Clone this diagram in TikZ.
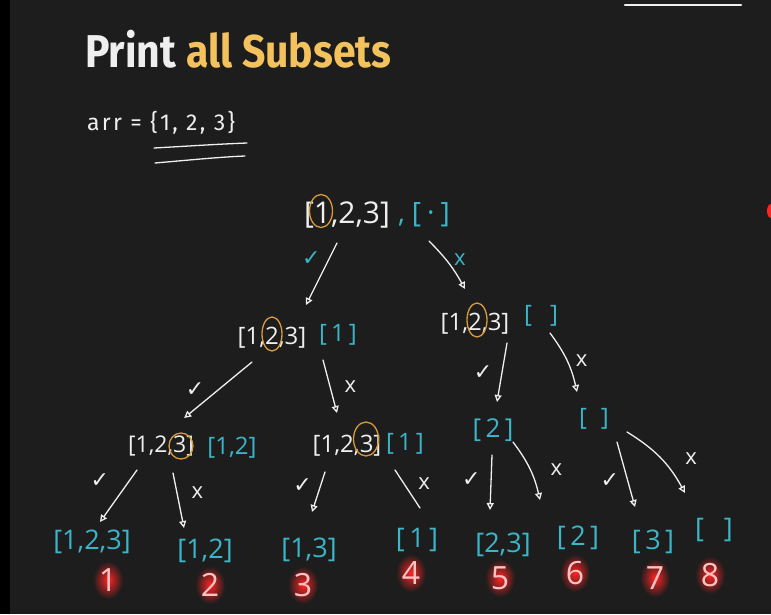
\documentclass[tikz,border=0pt]{standalone}
\usepackage{fontspec}
\usepackage{graphicx}
\setmainfont{Open Sans}
\newfontfamily\titlefont{Fira Sans}
\newfontfamily\symfont{DejaVu Sans}
\usetikzlibrary{arrows.meta}
\definecolor{board}{HTML}{1D1D1D}
\definecolor{chalkw}{HTML}{EFEFEF}
\definecolor{chalkb}{HTML}{3BB6C9}
\definecolor{ringc}{HTML}{D99A3B}
\definecolor{titley}{HTML}{F4C25C}
\definecolor{numred}{HTML}{FF2424}
\definecolor{numcore}{HTML}{FFC2C2}

\begin{document}
\begin{tikzpicture}[
    x=1pt, y=-1pt,
    chalk/.style={text=chalkw, inner sep=0pt, font=\fontsize{24}{24}\selectfont},
    sub/.style={chalk, text=chalkb},
    leaf/.style={sub, font=\fontsize{27}{27}\selectfont},
    ring/.style={draw=ringc, line width=1.3pt},
    chalkline/.style={draw=chalkw, line width=1.3pt, line cap=round},
    arr/.style={chalkline, -{Triangle[open, length=7pt, width=7pt]}},
    ck/.style={text=chalkw, inner sep=0pt, font=\symfont\fontsize{22}{22}\selectfont},
    ckb/.style={ck, text=chalkb},
    ex/.style={text=chalkw, inner sep=0pt, font=\fontsize{22}{22}\selectfont},
    exb/.style={ex, text=chalkb},
    num/.style={text=numcore, inner sep=0pt, font=\fontsize{32}{32}\selectfont}
]
    % 背景
    \useasboundingbox (0,0) rectangle (771,614);
    \fill[board] (0,0) rectangle (771,614);
    \fill[black] (0,0) rectangle (10,614);
    \draw[chalkline, line width=2.5pt] (625,5) -- (741,5);
    \fill[numred] (771,211) ellipse (4 and 7);

    % 标题
    \node[anchor=base west, inner sep=0pt, text=chalkw,
          font=\titlefont\bfseries\fontsize{46}{46}\selectfont] (title) at (85,67)
          {\scalebox{0.89}[1]{Print \textcolor{titley}{all Subsets}}};
    \node[anchor=base west, inner sep=0pt, text=chalkw,
          font=\titlefont\fontsize{23}{23}\selectfont\addfontfeature{LetterSpace=10}] (arr) at (87,130)
          {arr = \{1, 2, 3\}};
    \draw[chalkline] (154,148) .. controls (190,146) and (220,144) .. (247,143);
    \draw[chalkline] (155,163) .. controls (190,160) and (220,157) .. (245,156);

    % 节点定义
    \node[chalk, font=\fontsize{30}{30}\selectfont] (r) at (347,215) {[1,2,3]}; % 根
    \node[sub, font=\fontsize{28}{28}\selectfont] (rb) at (424,215) {,\hspace{7pt}[\hspace{6pt}·\hspace{6pt}]};
    \node[chalk] (a) at (272,338) {[1,2,3]};       % 第二层左
    \node[sub] (ab) at (338,335) {[\,1\,]};
    \node[chalk] (b) at (475,324) {[1,2,3]};       % 第二层右
    \node[sub] (bb) at (541,316) {[\hspace{18pt}]};
    \node[chalk, font=\fontsize{23}{23}\selectfont] (c) at (161,446) {[1,2,3]}; % 第三层
    \node[sub] (cb) at (232,448) {[1,2]};
    \node[chalk] (d) at (347,446) {[1,2,3]};
    \node[sub] (db) at (405,444) {[\,1\,]};
    \node[sub, font=\fontsize{26}{26}\selectfont] (e) at (493,430) {[\,2\,]};
    \node[sub] (f) at (594,419) {[\hspace{14pt}]};

    % 叶子
    \node[leaf] (l1) at (92,542) {[1,2,3]};
    \node[leaf] (l2) at (205,551) {[1,2]};
    \node[leaf] (l3) at (309,550) {[1,3]};
    \node[leaf] (l4) at (417,540) {[\,1\,]};
    \node[leaf] (l5) at (503,545) {[2,3]};
    \node[leaf] (l6) at (578,538) {[\,2\,]};
    \node[leaf] (l7) at (653,542) {[\,3\,]};
    \node[leaf] (l8) at (714,530) {[\hspace{20pt}]};

    % 圈出当前元素
    \draw[ring] (321,211) ellipse (11.5 and 16.5);
    \draw[ring] (272,334) ellipse (10 and 17);
    \draw[ring] (477,320) ellipse (10 and 17);
    \draw[ring] (181,446) ellipse (12 and 13);
    \draw[ring] (366,439) ellipse (12.5 and 17);

    % 分支
    \draw[arr] ([shift={(-10,28)}]r.center) -- node[ckb, pos=.25, left=8pt] {✓} ([shift={(34,-33)}]a.center);
    \draw[arr] ([shift={(5,26)}]rb.center) to[bend left=8] node[exb, pos=.4, right=8pt] {x} ([shift={(-10,-35)}]b.center);
    \draw[arr] ([shift={(-20,24)}]a.center) -- node[ck, left=13pt] {✓} ([shift={(-10,-28)}]c.east);
    \draw[arr] ([shift={(51,22)}]a.center) -- node[ex, right=14pt] {x} ([shift={(-10,-33)}]d.center);
    \draw[arr] ([shift={(32,19)}]b.center) -- node[ck, left=9pt] {✓} ([shift={(4,-28)}]e.center);
    \draw[arr] ([shift={(9,17)}]bb.center) to[bend left=12] node[ex, right=8pt] {x} ([shift={(-17,-27)}]f.center);
    \draw[arr] ([shift={(-24,24)}]c.center) -- node[ck, pos=.2, left=20pt] {✓} ([shift={(8,-20)}]l1.center);
    \draw[arr] ([shift={(12,27)}]c.center) -- node[ex, pos=.35, right=14pt] {x} ([shift={(-21,-23)}]l2.center);
    \draw[arr] ([shift={(-22,26)}]d.center) -- node[ck, pos=.35, left=8pt] {✓} ([shift={(3,-38)}]l3.center);
    \draw[chalkline] ([shift={(48,24)}]d.center) -- node[ex, pos=.35, right=14pt] {x} ([shift={(3,-32)}]l4.center);
    \draw[arr] ([shift={(-1,25)}]e.center) -- node[ck, pos=.45, left=10pt] {✓} ([shift={(-13,-35)}]l5.center);
    \draw[arr] ([shift={(20,12)}]e.center) to[bend left=12] node[ex, right=20pt] {x} ([shift={(-38,-38)}]l6.center);
    \draw[arr] ([shift={(23,23)}]f.center) -- node[ck, pos=.6, left=8pt] {✓} ([shift={(-18,-35)}]l7.center);
    \draw[arr] ([shift={(33,13)}]f.center) to[bend left=15] node[ex, right=24pt] {x} ([shift={(-29,-37)}]l8.center);

    % 计数（红色发光）
    \foreach \n/\x/\y in {1/108/580, 2/210/585, 3/303/585, 4/411/573,
                          5/500/578, 6/575/573, 7/655/578, 8/710/575} {
        \shade[inner color=numred, outer color=board] (\x,\y) ellipse (15 and 19);
        \node[num] (n\n) at (\x,\y) {\n};
    }
\end{tikzpicture}
\end{document}
